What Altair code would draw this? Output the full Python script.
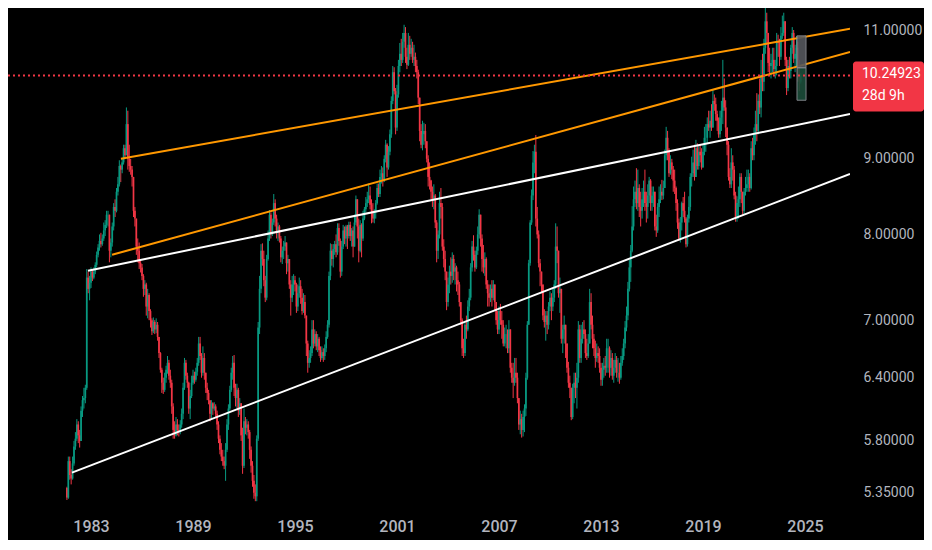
import altair as alt
import pandas as pd

# ---------------- data (USD/SEK, monthly candles, log scale) ----------------
START_YEAR, START_MONTH = 1981, 8
FIRST_OPEN = 5.39

CLOSE = {
    1981: [5.31, 5.62, 5.50, 5.47, 5.60],
    1982: [5.75, 5.82, 5.95, 5.85, 5.80, 6.08, 6.18, 6.20, 6.30, 7.48, 7.35, 7.42],
    1983: [7.55, 7.48, 7.55, 7.63, 7.75, 7.84, 7.92, 7.88, 7.95, 8.05, 8.12, 8.25],
    1984: [8.25, 7.80, 7.90, 8.10, 8.35, 8.30, 8.55, 8.65, 8.90, 8.85, 8.95, 9.15],
    1985: [9.05, 9.50, 9.00, 8.90, 8.85, 8.75, 8.30, 8.20, 7.85, 7.80, 7.65, 7.60],
    1986: [7.50, 7.35, 7.40, 7.15, 7.28, 7.10, 7.00, 6.88, 6.98, 6.90, 6.95, 6.82],
    1987: [6.65, 6.48, 6.35, 6.28, 6.40, 6.48, 6.55, 6.42, 6.35, 6.12, 5.90, 5.85],
    1988: [5.95, 5.90, 5.88, 5.95, 6.05, 6.30, 6.55, 6.42, 6.35, 6.10, 6.22, 6.35],
    1989: [6.42, 6.38, 6.46, 6.55, 6.75, 6.62, 6.45, 6.60, 6.45, 6.30, 6.25, 6.18],
    1990: [6.05, 6.15, 6.10, 6.12, 6.05, 5.95, 5.82, 5.72, 5.66, 5.62, 5.58, 5.72],
    1991: [5.95, 6.10, 6.28, 6.45, 6.55, 6.30, 6.20, 6.28, 6.08, 6.15, 5.85, 5.58],
    1992: [5.98, 5.92, 5.95, 5.88, 5.72, 5.58, 5.45, 5.35, 5.32, 5.82, 6.92, 7.35],
    1993: [7.80, 7.70, 7.45, 7.25, 7.70, 7.95, 8.25, 8.00, 8.15, 8.40, 8.20, 8.05],
    1994: [8.10, 7.95, 7.72, 7.80, 7.85, 7.90, 7.65, 7.70, 7.40, 7.25, 7.40, 7.45],
    1995: [7.40, 7.15, 7.30, 7.38, 7.25, 7.10, 7.20, 7.05, 6.75, 6.55, 6.60, 6.65],
    1996: [6.90, 6.75, 6.85, 6.72, 6.80, 6.68, 6.60, 6.66, 6.62, 6.70, 6.82, 6.95],
    1997: [7.50, 7.80, 7.70, 7.82, 7.88, 7.78, 8.08, 7.92, 7.55, 7.85, 8.05, 7.95],
    1998: [8.10, 7.98, 8.12, 7.98, 8.05, 7.85, 8.15, 8.45, 8.10, 7.80, 8.12, 7.95],
    1999: [8.20, 8.32, 8.40, 8.45, 8.50, 8.38, 8.30, 8.20, 8.28, 8.40, 8.60, 8.52],
    2000: [8.75, 8.80, 8.70, 9.00, 9.20, 8.88, 9.10, 9.35, 9.85, 10.30, 10.00, 9.45],
    2001: [9.95, 10.40, 10.60, 10.50, 10.80, 10.95, 10.55, 10.42, 10.75, 10.60, 10.70, 10.50],
    2002: [10.55, 10.40, 10.30, 9.90, 9.40, 9.20, 9.35, 9.40, 9.25, 9.00, 8.75, 8.70],
    2003: [8.55, 8.45, 8.50, 8.15, 7.80, 8.00, 8.40, 8.35, 7.85, 7.70, 7.55, 7.20],
    2004: [7.40, 7.55, 7.50, 7.70, 7.55, 7.60, 7.45, 7.40, 7.20, 7.00, 6.70, 6.65],
    2005: [6.95, 6.90, 7.15, 7.25, 7.60, 7.85, 7.75, 7.60, 7.80, 8.00, 8.25, 7.95],
    2006: [7.70, 7.60, 7.70, 7.40, 7.30, 7.25, 7.35, 7.25, 7.40, 7.20, 7.00, 6.90],
    2007: [7.10, 7.00, 6.95, 6.75, 6.85, 6.85, 6.70, 6.90, 6.50, 6.40, 6.35, 6.45],
    2008: [6.40, 6.20, 5.95, 6.00, 5.90, 6.02, 6.10, 6.40, 6.95, 7.65, 8.15, 8.50],
    2009: [8.95, 9.10, 8.20, 8.00, 7.65, 7.55, 7.40, 7.05, 6.98, 7.05, 6.95, 7.15],
    2010: [7.25, 7.15, 7.25, 7.40, 7.85, 7.80, 7.30, 7.35, 6.80, 6.90, 6.95, 6.75],
    2011: [6.50, 6.35, 6.30, 6.02, 6.30, 6.35, 6.30, 6.40, 6.90, 6.60, 6.80, 6.90],
    2012: [6.85, 6.65, 6.62, 6.75, 7.20, 6.95, 6.80, 6.70, 6.60, 6.65, 6.62, 6.50],
    2013: [6.38, 6.48, 6.52, 6.50, 6.70, 6.70, 6.50, 6.60, 6.42, 6.50, 6.58, 6.45],
    2014: [6.45, 6.40, 6.55, 6.62, 6.75, 6.92, 7.05, 7.35, 7.60, 7.80, 8.10, 8.45],
    2015: [8.55, 8.40, 8.60, 8.35, 8.30, 8.45, 8.55, 8.40, 8.35, 8.50, 8.70, 8.40],
    2016: [8.50, 8.55, 8.10, 8.05, 8.35, 8.45, 8.55, 8.50, 8.60, 9.05, 9.30, 9.10],
    2017: [8.80, 8.95, 8.85, 8.70, 8.60, 8.40, 8.15, 7.95, 8.15, 8.40, 8.30, 8.20],
    2018: [7.88, 8.20, 8.35, 8.75, 8.80, 8.95, 8.75, 9.15, 8.90, 9.10, 9.05, 8.88],
    2019: [9.10, 9.30, 9.30, 9.50, 9.45, 9.55, 9.45, 9.85, 9.80, 9.65, 9.55, 9.35],
    2020: [9.60, 9.70, 9.90, 9.75, 9.45, 9.20, 8.75, 8.65, 8.95, 8.85, 8.50, 8.20],
    2021: [8.40, 8.45, 8.75, 8.55, 8.30, 8.55, 8.60, 8.65, 8.75, 8.60, 9.15, 9.05],
    2022: [9.35, 9.50, 9.40, 9.85, 9.75, 10.25, 10.15, 10.70, 11.15, 10.95, 10.45, 10.40],
    2023: [10.45, 10.50, 10.35, 10.40, 10.80, 10.78, 10.55, 10.90, 10.95, 11.15, 10.50, 10.05],
    2024: [10.40, 10.32, 10.70, 10.95, 10.52, 10.60, 10.70, 10.20, 10.15, 10.24923],
}

HIGH = {
    1981: [5.40, 5.66, 5.66, 5.55, 5.66],
    1982: [5.80, 5.88, 6.00, 5.98, 5.90, 6.12, 6.22, 6.30, 6.33, 7.58, 7.55, 7.50],
    1983: [7.60, 7.58, 7.60, 7.66, 7.79, 7.88, 8.00, 8.02, 8.00, 8.15, 8.18, 8.30],
    1984: [8.30, 8.25, 7.95, 8.15, 8.40, 8.45, 8.60, 8.75, 8.98, 8.92, 9.00, 9.20],
    1985: [9.20, 9.75, 9.70, 9.20, 9.00, 8.90, 8.68, 8.35, 8.20, 7.95, 7.90, 7.68],
    1986: [7.64, 7.52, 7.45, 7.42, 7.35, 7.30, 7.12, 7.02, 7.03, 7.00, 7.02, 6.98],
    1987: [6.80, 6.66, 6.50, 6.40, 6.45, 6.52, 6.62, 6.58, 6.48, 6.38, 6.15, 5.98],
    1988: [6.02, 6.00, 5.95, 5.99, 6.10, 6.35, 6.60, 6.58, 6.45, 6.36, 6.28, 6.42],
    1989: [6.48, 6.46, 6.50, 6.60, 6.82, 6.82, 6.65, 6.72, 6.65, 6.45, 6.35, 6.28],
    1990: [6.18, 6.18, 6.16, 6.16, 6.14, 6.08, 5.98, 5.85, 5.78, 5.72, 5.66, 5.78],
    1991: [6.00, 6.14, 6.32, 6.50, 6.62, 6.63, 6.34, 6.34, 6.30, 6.20, 6.10, 5.92],
    1992: [6.10, 6.02, 6.00, 5.98, 5.90, 5.75, 5.62, 5.50, 5.42, 5.85, 6.98, 7.50],
    1993: [7.88, 7.89, 7.80, 7.50, 7.75, 8.05, 8.31, 8.28, 8.20, 8.52, 8.45, 8.25],
    1994: [8.15, 8.12, 7.98, 7.85, 7.92, 7.98, 7.90, 7.75, 7.68, 7.45, 7.50, 7.52],
    1995: [7.50, 7.42, 7.40, 7.48, 7.45, 7.35, 7.30, 7.28, 7.05, 6.78, 6.68, 6.72],
    1996: [7.00, 7.00, 6.90, 6.88, 6.85, 6.82, 6.72, 6.72, 6.70, 6.74, 6.88, 7.00],
    1997: [7.55, 7.89, 7.88, 7.88, 7.92, 8.00, 8.14, 8.14, 7.95, 7.92, 8.12, 8.10],
    1998: [8.12, 8.12, 8.16, 8.16, 8.08, 8.10, 8.25, 8.50, 8.40, 8.20, 8.18, 8.14],
    1999: [8.30, 8.35, 8.48, 8.55, 8.66, 8.62, 8.45, 8.40, 8.32, 8.44, 8.66, 8.66],
    2000: [8.85, 8.90, 8.88, 9.05, 9.27, 9.22, 9.18, 9.42, 9.92, 10.40, 10.38, 10.05],
    2001: [10.10, 10.50, 10.78, 10.85, 10.95, 11.09, 11.05, 10.70, 10.95, 10.90, 10.85, 10.80],
    2002: [10.75, 10.62, 10.50, 10.34, 9.90, 9.50, 9.55, 9.52, 9.50, 9.25, 9.05, 8.95],
    2003: [8.71, 8.62, 8.65, 8.52, 8.18, 8.05, 8.55, 8.60, 8.40, 7.94, 7.80, 7.55],
    2004: [7.48, 7.62, 7.72, 7.78, 7.75, 7.65, 7.62, 7.55, 7.43, 7.20, 7.02, 6.80],
    2005: [6.99, 7.05, 7.22, 7.35, 7.65, 7.92, 7.99, 7.80, 7.85, 8.10, 8.32, 8.25],
    2006: [8.00, 7.87, 7.78, 7.72, 7.45, 7.40, 7.40, 7.45, 7.45, 7.40, 7.20, 7.10],
    2007: [7.15, 7.18, 7.10, 7.00, 6.92, 6.95, 6.90, 7.00, 6.90, 6.55, 6.55, 6.60],
    2008: [6.60, 6.45, 6.20, 6.08, 6.05, 6.08, 6.14, 6.45, 6.99, 7.69, 8.18, 8.58],
    2009: [9.11, 9.20, 9.34, 8.35, 8.05, 7.70, 7.55, 7.40, 7.12, 7.10, 7.10, 7.20],
    2010: [7.32, 7.30, 7.35, 7.45, 8.14, 8.10, 7.80, 7.48, 7.35, 6.95, 7.05, 6.95],
    2011: [6.75, 6.56, 6.42, 6.30, 6.34, 6.45, 6.45, 6.55, 6.99, 6.95, 6.95, 6.98],
    2012: [7.00, 6.90, 6.80, 6.85, 7.35, 7.30, 7.05, 6.85, 6.78, 6.75, 6.72, 6.70],
    2013: [6.55, 6.55, 6.60, 6.62, 6.80, 6.80, 6.72, 6.68, 6.65, 6.58, 6.65, 6.62],
    2014: [6.60, 6.55, 6.62, 6.70, 6.80, 6.99, 7.15, 7.43, 7.69, 7.87, 8.36, 8.62],
    2015: [8.70, 8.87, 8.85, 8.65, 8.55, 8.60, 8.70, 8.85, 8.55, 8.65, 8.75, 8.72],
    2016: [8.62, 8.62, 8.55, 8.25, 8.40, 8.62, 8.65, 8.71, 8.70, 9.13, 9.46, 9.40],
    2017: [9.15, 9.05, 9.00, 8.90, 8.85, 8.62, 8.45, 8.20, 8.22, 8.42, 8.48, 8.55],
    2018: [8.22, 8.25, 8.49, 8.80, 9.03, 9.13, 9.20, 9.27, 9.22, 9.20, 9.20, 9.15],
    2019: [9.20, 9.46, 9.50, 9.60, 9.70, 9.70, 9.80, 10.02, 9.95, 9.90, 9.70, 9.60],
    2020: [9.70, 9.85, 10.50, 10.20, 9.86, 9.45, 9.25, 8.87, 9.15, 9.05, 8.90, 8.55],
    2021: [8.49, 8.62, 8.80, 8.80, 8.50, 8.60, 8.75, 8.85, 8.85, 8.80, 9.25, 9.30],
    2022: [9.45, 9.70, 9.97, 9.95, 10.20, 10.50, 10.60, 10.85, 11.50, 11.30, 10.95, 10.70],
    2023: [10.60, 10.70, 10.70, 10.50, 10.95, 10.92, 10.85, 11.05, 11.25, 11.30, 11.15, 10.55],
    2024: [10.50, 10.55, 10.75, 11.05, 11.00, 10.75, 10.90, 10.80, 10.50, 10.28],
}

LOW = {
    1981: [5.29, 5.30, 5.46, 5.42, 5.46],
    1982: [5.58, 5.72, 5.80, 5.78, 5.74, 5.80, 6.02, 6.10, 6.15, 6.28, 7.30, 7.22],
    1983: [7.36, 7.44, 7.46, 7.52, 7.60, 7.72, 7.80, 7.84, 7.86, 7.92, 7.98, 8.08],
    1984: [8.10, 7.66, 7.72, 7.85, 8.05, 8.22, 8.28, 8.50, 8.62, 8.68, 8.80, 8.92],
    1985: [9.00, 9.05, 8.85, 8.82, 8.78, 8.62, 8.22, 8.10, 7.75, 7.66, 7.58, 7.54],
    1986: [7.45, 7.26, 7.28, 7.05, 7.02, 7.00, 6.92, 6.84, 6.86, 6.85, 6.86, 6.78],
    1987: [6.60, 6.45, 6.25, 6.24, 6.26, 6.35, 6.44, 6.38, 6.30, 6.05, 5.82, 5.82],
    1988: [5.84, 5.85, 5.84, 5.86, 5.92, 6.00, 6.28, 6.38, 6.30, 6.05, 6.00, 6.20],
    1989: [6.33, 6.34, 6.36, 6.42, 6.52, 6.58, 6.40, 6.42, 6.38, 6.25, 6.18, 6.14],
    1990: [5.98, 6.00, 6.04, 6.08, 6.02, 5.90, 5.78, 5.68, 5.62, 5.58, 5.55, 5.45],
    1991: [5.70, 5.90, 6.08, 6.26, 6.38, 6.22, 6.12, 6.10, 6.02, 6.04, 5.80, 5.51],
    1992: [5.56, 5.86, 5.85, 5.82, 5.64, 5.52, 5.40, 5.30, 5.28, 5.28, 5.80, 6.85],
    1993: [7.30, 7.62, 7.38, 7.20, 7.22, 7.68, 7.92, 7.95, 7.98, 8.12, 8.10, 7.95],
    1994: [7.92, 7.90, 7.66, 7.64, 7.70, 7.80, 7.52, 7.55, 7.35, 7.05, 7.20, 7.28],
    1995: [7.32, 7.08, 7.10, 7.25, 7.18, 7.06, 7.08, 7.02, 6.62, 6.45, 6.50, 6.55],
    1996: [6.62, 6.70, 6.72, 6.68, 6.66, 6.62, 6.56, 6.58, 6.56, 6.58, 6.66, 6.80],
    1997: [6.92, 7.45, 7.62, 7.60, 7.75, 7.72, 7.75, 7.86, 7.48, 7.50, 7.82, 7.88],
    1998: [7.85, 7.82, 7.95, 7.92, 7.85, 7.72, 7.85, 8.12, 7.95, 7.66, 7.78, 7.72],
    1999: [7.92, 8.18, 8.28, 8.35, 8.40, 8.32, 8.14, 8.15, 8.14, 8.20, 8.38, 8.48],
    2000: [8.48, 8.66, 8.62, 8.68, 8.95, 8.75, 8.85, 9.05, 9.30, 9.80, 9.95, 9.35],
    2001: [9.40, 9.90, 10.30, 10.40, 10.45, 10.70, 10.45, 10.35, 10.40, 10.50, 10.55, 10.45],
    2002: [10.40, 10.30, 10.20, 9.80, 9.25, 9.15, 9.12, 9.20, 9.15, 8.95, 8.62, 8.58],
    2003: [8.45, 8.35, 8.32, 8.08, 7.66, 7.70, 7.95, 8.20, 7.80, 7.60, 7.45, 7.11],
    2004: [7.15, 7.30, 7.40, 7.42, 7.45, 7.40, 7.32, 7.28, 7.15, 6.95, 6.62, 6.60],
    2005: [6.62, 6.80, 6.88, 7.10, 7.22, 7.55, 7.68, 7.55, 7.58, 7.75, 7.95, 7.85],
    2006: [7.55, 7.53, 7.50, 7.35, 7.15, 7.15, 7.20, 7.15, 7.22, 7.10, 6.95, 6.85],
    2007: [6.85, 6.95, 6.80, 6.72, 6.72, 6.70, 6.65, 6.65, 6.45, 6.35, 6.20, 6.32],
    2008: [6.35, 6.15, 5.90, 5.86, 5.83, 5.84, 5.88, 6.03, 6.38, 6.95, 7.62, 8.12],
    2009: [8.44, 8.80, 8.10, 7.95, 7.60, 7.38, 7.30, 7.00, 6.92, 6.78, 6.85, 6.90],
    2010: [7.10, 7.00, 7.10, 7.20, 7.35, 7.65, 7.25, 7.08, 6.75, 6.65, 6.75, 6.60],
    2011: [6.45, 6.30, 6.20, 5.99, 6.00, 6.15, 6.20, 6.10, 6.35, 6.55, 6.55, 6.75],
    2012: [6.80, 6.60, 6.58, 6.60, 6.75, 6.90, 6.70, 6.62, 6.50, 6.56, 6.55, 6.45],
    2013: [6.32, 6.32, 6.40, 6.42, 6.45, 6.45, 6.40, 6.42, 6.38, 6.35, 6.45, 6.40],
    2014: [6.36, 6.34, 6.38, 6.52, 6.58, 6.70, 6.88, 7.00, 7.32, 7.43, 7.78, 8.05],
    2015: [8.35, 8.32, 8.30, 8.22, 8.10, 8.20, 8.35, 8.30, 8.15, 8.20, 8.40, 8.30],
    2016: [8.30, 8.35, 8.05, 7.97, 8.02, 8.22, 8.40, 8.44, 8.45, 8.60, 8.98, 8.98],
    2017: [8.75, 8.78, 8.72, 8.55, 8.52, 8.30, 8.07, 7.92, 7.90, 8.05, 8.22, 8.15],
    2018: [7.84, 7.85, 8.15, 8.30, 8.62, 8.75, 8.70, 8.75, 8.85, 8.85, 8.95, 8.85],
    2019: [8.88, 9.05, 9.10, 9.22, 9.40, 9.30, 9.40, 9.45, 9.70, 9.55, 9.40, 9.30],
    2020: [9.30, 9.40, 9.50, 9.70, 9.31, 9.05, 8.70, 8.60, 8.60, 8.70, 8.45, 8.16],
    2021: [8.16, 8.20, 8.35, 8.40, 8.25, 8.25, 8.50, 8.55, 8.55, 8.55, 8.58, 8.98],
    2022: [8.98, 9.20, 9.25, 9.35, 9.65, 9.60, 10.00, 10.00, 10.60, 10.75, 10.30, 10.25],
    2023: [10.20, 10.30, 10.25, 10.20, 10.25, 10.55, 10.40, 10.50, 10.85, 10.90, 10.40, 9.94],
    2024: [10.00, 10.20, 10.20, 10.60, 10.45, 10.30, 10.40, 10.15, 10.00, 10.12],
}

X_TICKS = [1983, 1989, 1995, 2001, 2007, 2013, 2019, 2025]
Y_TICKS = [5.35, 5.8, 6.4, 7.0, 8.0, 9.0, 11.0]
LAST_PRICE = 10.24923
LAST_LABEL = "10.24923"
COUNTDOWN = "28d 9h"

# trend lines drawn on the chart: (name, colour, start, end) in (year, price)
TL_NAMES = ["lower support", "upper support", "upper resistance", "lower resistance"]
TL_COLORS = ["#FFFFFF", "#FFFFFF", "#FF9800", "#FF9800"]
TL_START = [(1981.88, 5.52), (1982.82, 7.56), (1984.76, 9.00), (1984.24, 7.75)]
TL_END = [(2027.65, 8.79), (2027.65, 9.65), (2027.65, 11.02), (2027.65, 10.63)]

# highlight box over the last candle: (x1, x2), levels top/mid/bottom, fills
BOX_X = (2024.53, 2025.06)
BOX_LEVELS = [10.90, 10.37, 9.86]
BOX_FILLS = ["#55585e", "#1c4d3a"]

# ---------------- build tables ----------------
rows = []
prev = FIRST_OPEN
for year in sorted(CLOSE):
    first_month = START_MONTH if year == START_YEAR else 1
    for k, (c, h, l) in enumerate(zip(CLOSE[year], HIGH[year], LOW[year])):
        m = first_month + k
        o = prev
        rows.append({
            "t": year + (m - 1) / 12.0,
            "o": o, "c": c,
            "h": max(h, o, c), "l": min(l, o, c),
            "dir": "up" if c >= o else "down",
        })
        prev = c
candles = pd.DataFrame(rows)

tl_rows = []
for name, col, s, e in zip(TL_NAMES, TL_COLORS, TL_START, TL_END):
    tl_rows.append({"id": name, "col": col, "t": s[0], "p": s[1]})
    tl_rows.append({"id": name, "col": col, "t": e[0], "p": e[1]})
trend = pd.DataFrame(tl_rows)

box = pd.DataFrame({
    "x1": [BOX_X[0], BOX_X[0]], "x2": [BOX_X[1], BOX_X[1]],
    "y1": BOX_LEVELS[:2], "y2": BOX_LEVELS[1:],
    "fill": BOX_FILLS,
})

last = pd.DataFrame({"price": [LAST_PRICE], "label": [LAST_LABEL], "cd": [COUNTDOWN]})

# ---------------- styling ----------------
FONT = "Roboto, Inter, sans-serif"
UP, DOWN = "#089981", "#F23645"
LABEL = "#B2B5BE"
W, H = 842, 502

xs = alt.Scale(domain=[1978.1176, 2027.647], nice=False, zero=False)
ys = alt.Scale(type="log", domain=[5.2081, 11.3836], nice=False, zero=False)

x_axis = alt.Axis(values=X_TICKS, format="d", title=None, grid=False, domain=False,
                  ticks=False, labelFont=FONT, labelFontSize=16, labelFontWeight=500,
                  labelColor=LABEL, labelPadding=8, labelFlush=False, labelOverlap=False)
y_axis = alt.Axis(orient="right", values=Y_TICKS, format=".5f", title=None, grid=False,
                  domain=False, ticks=False, labelFont=FONT, labelFontSize=14,
                  labelColor=LABEL, labelPadding=13, labelFlush=False, labelOverlap=False)


def X(field):
    return alt.X(field, scale=xs, axis=x_axis, title=None)


def Y(field):
    return alt.Y(field, scale=ys, axis=y_axis, title=None)


color = alt.Color("dir:N", scale=alt.Scale(domain=["up", "down"], range=[UP, DOWN]), legend=None)

wicks = alt.Chart(candles).mark_rule(strokeWidth=1, clip=True).encode(
    x=X("t:Q"), y=Y("l:Q"), y2="h:Q", color=color,
)
bodies = alt.Chart(candles).mark_rule(strokeWidth=1.7, clip=True).encode(
    x=X("t:Q"), y=Y("o:Q"), y2="c:Q", color=color,
)

lines = alt.Chart(trend).mark_line(strokeWidth=2, clip=True).encode(
    x=X("t:Q"), y=Y("p:Q"),
    detail="id:N",
    color=alt.Color("col:N", scale=None),
)

boxes = alt.Chart(box).mark_rect(stroke="#8c8f96", strokeWidth=1, opacity=0.9, clip=True).encode(
    x=X("x1:Q"), x2="x2:Q",
    y=Y("y1:Q"), y2="y2:Q",
    fill=alt.Fill("fill:N", scale=None),
)

price_line = alt.Chart(last).mark_rule(color=DOWN, strokeWidth=2, strokeDash=[2, 3]).encode(
    y=Y("price:Q"),
)

price_box = alt.Chart(last).mark_rect(color=DOWN, cornerRadius=3, yOffset=-14, y2Offset=36).encode(
    x=alt.value(W + 3), x2=alt.value(W + 74),
    y=Y("price:Q"), y2="price:Q",
)
price_txt = alt.Chart(last).mark_text(align="left", baseline="middle", font=FONT, fontSize=14,
                                      color="#FFFFFF", dy=-1).encode(
    x=alt.value(W + 12), y=Y("price:Q"), text="label:N",
)
cd_txt = alt.Chart(last).mark_text(align="left", baseline="middle", font=FONT, fontSize=14,
                                   color="#FFFFFF", dy=21).encode(
    x=alt.value(W + 12), y=Y("price:Q"), text="cd:N",
)

chart = alt.layer(
    wicks, bodies, lines, boxes, price_line, price_box, price_txt, cd_txt
).properties(
    width=W, height=H,
    padding={"left": 0, "top": 0, "right": 74, "bottom": 30},
    autosize=alt.AutoSizeParams(type="none"),
    background="#000000",
).configure_view(stroke=None)

chart.save("out.html", embed_options={"renderer": "svg", "actions": False})
